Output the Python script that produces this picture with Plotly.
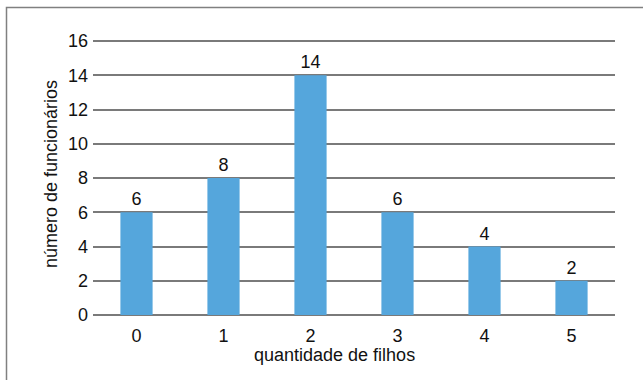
import plotly.graph_objects as go

# Número de funcionários por quantidade de filhos
filhos = ["0", "1", "2", "3", "4", "5"]
funcionarios = [6, 8, 14, 6, 4, 2]
y_ticks = [0, 2, 4, 6, 8, 10, 12, 14, 16]

W, H = 643, 380
ML, MR, MT, MB = 93, 28, 40, 65
pw, ph = W - ML - MR, H - MT - MB
Y_TOP = 16.06  # deixa a linha de grade do 16 visível dentro da área

FONT = "Liberation Sans, Arial, sans-serif"
GRID = "#7a7a7a"

fig = go.Figure(
    go.Bar(
        x=filhos,
        y=funcionarios,
        marker=dict(color="#55a6dc", line=dict(width=0)),
        text=[str(v) for v in funcionarios],
        textposition="outside",
        cliponaxis=False,
        textfont=dict(family=FONT, size=18, color="#111111"),
        width=0.37,
    )
)

def px_x(v):
    return (v - ML) / pw

def px_y(v):
    return (H - MB - v) / ph

# moldura externa (apenas bordas superior e esquerda ficam visíveis)
fig.add_shape(
    type="rect", xref="paper", yref="paper",
    x0=px_x(6.5), x1=px_x(700), y0=px_y(7.5), y1=px_y(420),
    line=dict(color="#808080", width=1.5), fillcolor="rgba(0,0,0,0)",
    layer="below",
)

# títulos dos eixos
fig.add_annotation(
    text="quantidade de filhos", xref="paper", yref="paper",
    x=px_x(334.5), y=px_y(355), xanchor="center", yanchor="middle",
    showarrow=False, font=dict(family=FONT, size=18, color="#111111"),
)
fig.add_annotation(
    text="número de funcionários", xref="paper", yref="paper",
    x=px_x(51), y=px_y(174), xanchor="center", yanchor="middle",
    textangle=-90,
    showarrow=False, font=dict(family=FONT, size=18, color="#111111"),
)

fig.update_layout(
    width=W, height=H,
    margin=dict(l=ML, r=MR, t=MT, b=MB, autoexpand=False),
    paper_bgcolor="white", plot_bgcolor="white",
    font=dict(family=FONT, size=18, color="#111111"),
    showlegend=False,
    xaxis=dict(
        type="category",
        showgrid=False, showline=False, zeroline=False,
        ticks="", ticklabelstandoff=8,
        tickfont=dict(size=18),
        automargin=False,
    ),
    yaxis=dict(
        range=[0, Y_TOP], tickvals=y_ticks,
        showgrid=True, gridcolor=GRID, gridwidth=1.5,
        zeroline=True, zerolinecolor=GRID, zerolinewidth=1.5,
        showline=False, ticks="", ticklabelstandoff=4,
        tickfont=dict(size=18),
        automargin=False,
    ),
)

fig.write_html("out.html")
